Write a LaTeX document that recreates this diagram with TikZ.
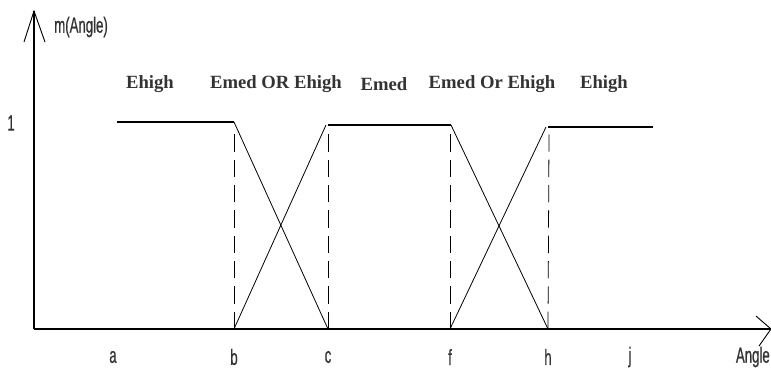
\documentclass[tikz,border=0pt]{standalone}
\usepackage{fontspec}
\setmainfont{Liberation Serif}
\newfontfamily\narrowsans[FakeStretch=0.6, FakeBold=0.6]{Liberation Sans}
\begin{document}
\begin{tikzpicture}[x=0.75pt, y=-0.75pt]
  \tikzset{
    setlabel/.style={font=\fontsize{14}{16}\selectfont\bfseries, text=black!80, inner sep=0pt},
    ticklabel/.style={font=\narrowsans\fontsize{16.5}{18}\selectfont, text=black!80, inner sep=0pt},
    axis/.style={line width=2.2pt},
    plateau/.style={line width=1.8pt},
    slope/.style={line width=0.6pt},
    guide/.style={line width=0.6pt, dash pattern=on 13pt off 6pt}
  }
  \useasboundingbox (0,0) rectangle (771,376);

  % Axes
  \coordinate (O) at (34,329);
  \coordinate (ytip) at (34,11);
  \coordinate (xtip) at (771,329);
  \draw[axis] (O) -- (ytip);
  \draw[axis] (O) -- (xtip);
  \draw[line width=0.7pt] (24,42) -- (ytip) -- (45,42);
  \draw[line width=0.7pt] (756,316) -- (xtip) -- (759,346);
  \node[ticklabel, anchor=west] (ylab) at (54,27) {m(Angle)};
  \node[ticklabel, anchor=east] (xlab) at (770,357) {Angle};
  \node[ticklabel] (one) at (11,123) {1};

  % Breakpoints on the angle axis
  \def\ya{122} \def\yb{125} \def\yc{127}
  \foreach \n/\x in {a/113, b/234, c/328, f/450, h/548, j/630} {
    \coordinate (\n) at (\x,329);
    \node[ticklabel] (lab\n) at (\x,357) {\n};
  }

  % Membership levels
  \draw[plateau] (117,\ya) -- (234,\ya);
  \draw[plateau] (328,\yb) -- (451,\yb);
  \draw[plateau] (548,\yc) -- (653,\yc);

  % Crossing slopes
  \draw[slope] (234,\ya) -- (c);
  \draw[slope] (b) -- (326,\yb);
  \draw[slope] (451,\yb) -- (h);
  \draw[slope] (f) -- (546,\yc);

  % Dashed guides
  \draw[guide] (b) -- (234,132);
  \draw[guide] (c) -- (328,128);
  \draw[guide] (f) -- (450,134);
  \draw[guide] (h) -- (549,134);

  % Set labels
  \node[setlabel] (s1) at (150,84) {Ehigh};
  \node[setlabel] (s2) at (276,84) {Emed OR Ehigh};
  \node[setlabel] (s3) at (384,84) {Emed};
  \node[setlabel] (s4) at (492,84) {Emed Or Ehigh};
  \node[setlabel] (s5) at (604,84) {Ehigh};
\end{tikzpicture}
\end{document}
